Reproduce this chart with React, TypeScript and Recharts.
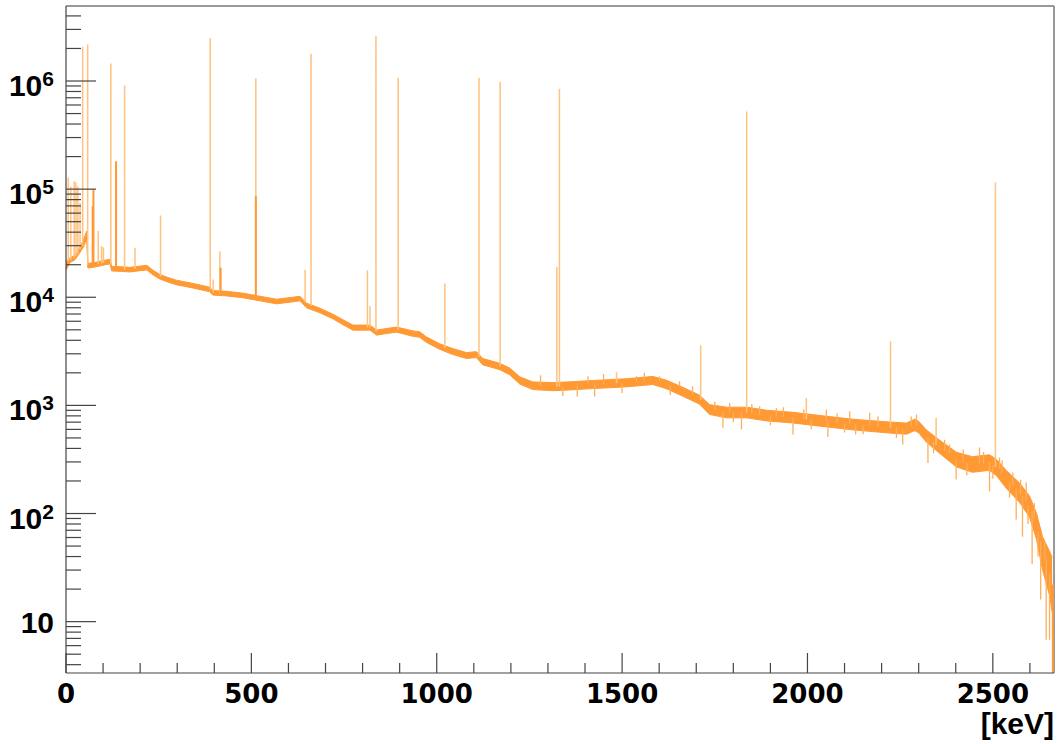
import { ComposedChart, Area, Line, XAxis, YAxis, ReferenceLine } from "recharts";

// continuum knots [keV]: middle of the noisy band (counts) and its spread (ratio)
const binEnergy = [
  0, 10, 24, 38, 48, 56, 59, 78, 100, 119, 123, 150, 173, 200, 218, 235, 253, 275, 298, 342,
  388, 396, 433, 477, 523, 568, 612, 631, 649, 685, 720, 750, 774, 820, 838, 860, 892, 936, 954, 972,
  1008, 1043, 1080, 1107, 1124, 1170, 1197, 1224, 1259, 1313, 1367, 1421, 1470, 1513, 1583, 1620, 1663, 1709, 1736, 1782,
  1836, 1890, 1960, 2052, 2122, 2222, 2267, 2289, 2300, 2321, 2356, 2402, 2445, 2491, 2510, 2537, 2572, 2599, 2618, 2634,
  2653, 2660,
];
const bandMid = [
  19500, 21900, 23300, 27600, 32000, 38000, 19600, 20000, 20800, 21400, 18400, 18200, 18000, 18500, 18800, 16900, 15500, 14500, 13700, 12800,
  11800, 11000, 10800, 10400, 9730, 9130, 9530, 9730, 8390, 7540, 6630, 5800, 5240, 5240, 4710, 4850, 5020, 4610, 4520, 4060,
  3500, 3150, 2890, 2950, 2540, 2290, 2060, 1700, 1520, 1490, 1520, 1560, 1590, 1620, 1700, 1560, 1340, 1130, 915, 859,
  859, 805, 771, 708, 665, 624, 610, 660, 630, 520, 416, 315, 284, 296, 266, 206, 156, 116, 76, 43,
  28, 22,
];
const bandSpread = [
  1.1, 1.05, 1.05, 1.06, 1.08, 1.08, 1.05, 1.05, 1.05, 1.05, 1.05, 1.05, 1.05, 1.05, 1.05, 1.05, 1.05, 1.05, 1.05, 1.05,
  1.05, 1.05, 1.05, 1.05, 1.05, 1.05, 1.05, 1.05, 1.05, 1.05, 1.05, 1.055, 1.055, 1.055, 1.055, 1.055, 1.055, 1.06, 1.06, 1.06,
  1.06, 1.065, 1.065, 1.065, 1.07, 1.07, 1.075, 1.08, 1.085, 1.09, 1.09, 1.09, 1.09, 1.09, 1.09, 1.095, 1.1, 1.1, 1.11, 1.12,
  1.12, 1.12, 1.12, 1.12, 1.12, 1.125, 1.125, 1.13, 1.13, 1.14, 1.15, 1.17, 1.18, 1.18, 1.19, 1.21, 1.23, 1.25, 1.32, 1.42,
  1.6, 1.8,
];

// single-bin lines (thin, light)
const peakEnergy = [
  6, 13, 22, 27, 32, 38, 45, 58.5, 87, 96, 101, 121, 158, 186, 255, 389, 397, 415, 512, 645,
  661, 813, 820, 836, 896, 1022, 1114, 1171, 1324, 1331, 1485, 1712, 1836, 1997, 2224, 2347, 2507,
];
const peakBase = [
  21500, 22000, 23000, 24000, 25000, 27600, 30000, 20000, 20200, 20500, 20700, 20000, 18000, 18300, 15500, 11800, 11000, 10800, 9700, 9000,
  8300, 5240, 5240, 4800, 5000, 3400, 2800, 2290, 1490, 1490, 1600, 1120, 859, 740, 624, 430, 270,
];
const peakTop = [
  128000, 106000, 118000, 115000, 106000, 75000, 2060000, 2180000, 41000, 29600, 29000, 1450000, 910000, 28700, 57000, 2500000, 14600, 26700, 1060000, 18000,
  1790000, 17700, 8260, 2590000, 1070000, 13400, 1070000, 985000, 19100, 847000, 2020, 3600, 522000, 1170, 3920, 765, 115000,
];

// wider lines (dark)
const strongEnergy = [72, 74, 135, 417, 512];
const strongBase = [20000, 20000, 18200, 10800, 9700];
const strongTop = [70000, 100000, 181000, 18700, 86000];

// bin-to-bin fluctuations sticking out of the band (up and down)
const flucEnergy = [
  1280, 1340, 1379, 1408, 1426, 1450, 1500, 1539, 1560, 1601, 1630, 1655, 1690, 1750, 1772, 1790, 1800, 1822, 1850, 1871,
  1900, 1916, 1935, 1961, 1990, 2010, 2051, 2055, 2080, 2100, 2114, 2130, 2150, 2168, 2190, 2240, 2257, 2280, 2294, 2325,
  2340, 2370, 2383, 2401, 2420, 2430, 2464, 2475, 2491, 2500, 2518, 2525, 2545, 2554, 2563, 2575, 2580, 2590, 2595, 2606,
  2612, 2622, 2629, 2640, 2644, 2653,
];
const flucBase = [
  1510, 1500, 1520, 1560, 1560, 1580, 1610, 1640, 1670, 1680, 1520, 1500, 1220, 890, 870, 860, 859, 859, 845, 810,
  800, 790, 785, 771, 750, 740, 708, 708, 690, 680, 670, 665, 655, 650, 640, 620, 600, 640, 650, 500,
  460, 380, 360, 315, 300, 295, 290, 290, 296, 280, 260, 235, 195, 180, 170, 150, 145, 130, 120, 105,
  90, 68, 55, 38, 38, 28,
];
const flucTip = [
  1900, 1220, 1210, 1860, 1210, 1950, 1300, 1860, 2000, 1860, 1250, 1670, 1500, 1080, 620, 1055, 700, 597, 1030, 982,
  650, 948, 960, 537, 920, 600, 915, 511, 840, 560, 881, 537, 540, 853, 790, 500, 434, 790, 823, 294,
  360, 480, 434, 206, 390, 225, 407, 370, 160, 210, 329, 310, 140, 239, 88, 205, 61, 194, 80, 34,
  125, 40, 16, 55, 6.8, 6.8,
];

const lastBinEnergy = [2662];
const lastBinBase = [22];
const lastBinBottom = [3.35];

const xTicks = [0, 100, 200, 300, 400, 500, 600, 700, 800, 900, 1000, 1100, 1200, 1300, 1400, 1500, 1600, 1700, 1800, 1900, 2000, 2100, 2200, 2300, 2400, 2500, 2600];
const yTicks = [
  4, 5, 6, 7, 8, 9,
  10, 20, 30, 40, 50, 60, 70, 80, 90,
  100, 200, 300, 400, 500, 600, 700, 800, 900,
  1000, 2000, 3000, 4000, 5000, 6000, 7000, 8000, 9000,
  10000, 20000, 30000, 40000, 50000, 60000, 70000, 80000, 90000,
  100000, 200000, 300000, 400000, 500000, 600000, 700000, 800000, 900000,
  1000000, 2000000, 3000000, 4000000,
];

const X_MAX = 2665;
const Y_MIN = 3.35;
const Y_MAX = 4.94e6;

const ORANGE = "#ff9933";
const LIGHT = "#ffc27f";
const AXIS = "#444";
const NUM_FONT = "'DejaVu Sans', sans-serif";
const HELV = "'Liberation Sans', Arial, sans-serif";

const bandData = binEnergy.map((e, i) => ({
  e,
  band: [bandMid[i] / bandSpread[i], bandMid[i] * bandSpread[i]],
}));

const segments = (es: number[], from: number[], to: number[]) =>
  es.flatMap((e, i) => [
    { e, v: from[i] },
    { e, v: to[i] },
    { e, v: null },
  ]);

const renderXTick = (p: any) => {
  const { x, y, payload } = p;
  const major = payload.value % 500 === 0;
  return (
    <g>
      <line x1={x} x2={x} y1={y} y2={y - (major ? 20 : 10)} stroke={AXIS} strokeWidth={1.2} />
      {major && (
        <text x={x} y={y + 30} textAnchor="middle" fontFamily={NUM_FONT} fontWeight="bold" fontSize={26} fill="#000">
          {payload.value}
        </text>
      )}
    </g>
  );
};

const renderYTick = (p: any) => {
  const { x, y, payload } = p;
  const v = payload.value;
  const exp = Math.round(Math.log10(v));
  const major = Math.abs(v - Math.pow(10, exp)) < v * 1e-6;
  return (
    <g>
      <line x1={x} x2={x + (major ? 30 : 15)} y1={y} y2={y} stroke={AXIS} strokeWidth={1.2} />
      {major && (
        <text x={x - 12} y={exp === 1 ? y + 11 : y + 15} textAnchor="end" fontFamily={HELV} fontWeight="bold" fontSize={30} fill="#000">
          10
          {exp > 1 && (
            <tspan dy={-10} fontSize={21}>
              {exp}
            </tspan>
          )}
        </text>
      )}
    </g>
  );
};

const KevLabel = (p: any) => {
  const { viewBox } = p;
  return (
    <text x={viewBox.x + viewBox.width} y={viewBox.y + 61} textAnchor="end" fontFamily={HELV} fontWeight="bold" fontSize={30} fill="#000">
      [keV]
    </text>
  );
};

const spikeLine = (data: any[], color: string, width: number) => (
  <Line
    data={data}
    dataKey="v"
    type="linear"
    stroke={color}
    strokeWidth={width}
    dot={false}
    activeDot={false}
    connectNulls={false}
    isAnimationActive={false}
  />
);

export default function App() {
  return (
    <div style={{ position: "absolute", left: 0, top: 0, background: "#fff" }}>
      <ComposedChart width={1057} height={744} data={bandData} margin={{ top: 6, right: 3, left: 6, bottom: 31 }}>
        <XAxis
          dataKey="e"
          type="number"
          domain={[0, X_MAX]}
          allowDataOverflow
          ticks={xTicks}
          interval={0}
          tickSize={0}
          tickMargin={0}
          tickLine={false}
          tick={renderXTick}
          axisLine={{ stroke: AXIS, strokeWidth: 1.2 }}
          height={40}
          label={{ content: KevLabel }}
        />
        <YAxis
          scale="log"
          domain={[Y_MIN, Y_MAX]}
          allowDataOverflow
          ticks={yTicks}
          interval={0}
          tickSize={0}
          tickMargin={0}
          tickLine={false}
          tick={renderYTick}
          axisLine={{ stroke: AXIS, strokeWidth: 1.2 }}
          width={60}
        />
        <ReferenceLine y={Y_MAX} stroke="#777" strokeWidth={1.5} />
        <ReferenceLine x={X_MAX} stroke="#777" strokeWidth={1.5} />
        {spikeLine(segments(peakEnergy, peakBase, peakTop), LIGHT, 1.5)}
        {spikeLine(segments(flucEnergy, flucBase, flucTip), "#ffae5c", 1.3)}
        <Area
          dataKey="band"
          type="linear"
          fill={ORANGE}
          fillOpacity={1}
          stroke={ORANGE}
          strokeWidth={1}
          isAnimationActive={false}
        />
        {spikeLine(segments(strongEnergy, strongBase, strongTop), ORANGE, 2)}
        {spikeLine(segments(lastBinEnergy, lastBinBase, lastBinBottom), ORANGE, 2)}
      </ComposedChart>
    </div>
  );
}
